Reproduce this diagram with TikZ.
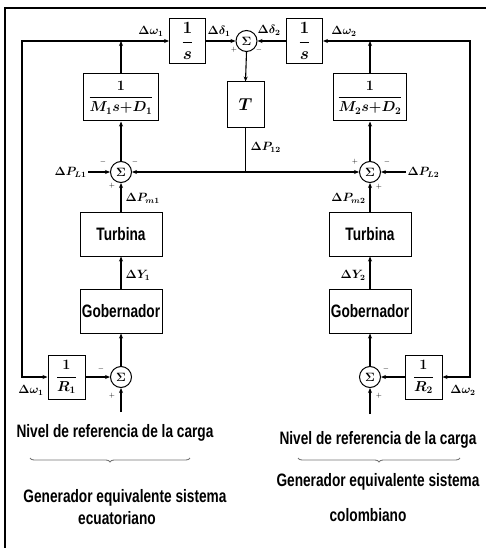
\documentclass[tikz,border=0pt]{standalone}
\usepackage{amsmath}
\usepackage{fontspec}
\newfontfamily\narrowsans[FakeStretch=0.76]{Liberation Sans}
\usepackage{tikz}
\usetikzlibrary{positioning}
\usetikzlibrary{arrows.meta}
\usetikzlibrary{decorations.pathreplacing}

% fraction with a little more air round the bar
\newcommand{\blockfrac}[2]{$\dfrac{#1\rule[-2pt]{0pt}{2pt}}{\rule{0pt}{9pt}#2}$}

\begin{document}
\begin{tikzpicture}[x=1pt, y=-1pt,
    blocknode/.style={draw, line width=1pt, inner sep=0pt, minimum width=82pt, minimum height=44pt, font=\narrowsans\bfseries\fontsize{18}{20}\selectfont},
    fracnode/.style={draw, line width=1pt, inner sep=0pt, minimum width=36pt, minimum height=45pt, font=\boldmath\fontsize{16}{18}\selectfont},
    sumnode/.style={circle, draw, line width=1pt, minimum size=21pt, inner sep=0pt, font=\boldmath\fontsize{13}{13}\selectfont},
    signnode/.style={inner sep=0pt, font=\fontsize{7}{7}\selectfont},
    varlabel/.style={inner sep=1pt, font=\boldmath\fontsize{12}{14}\selectfont},
    captext/.style={inner sep=0pt, font=\narrowsans\bfseries\fontsize{18}{20}\selectfont},
    bracegray/.style={draw=black!55, line width=0.9pt, decorate, decoration={brace, mirror, amplitude=4pt}},
    >={Stealth[length=5pt, width=4pt]}, line width=1.1pt]
        \useasboundingbox (0,0) rectangle (486,548);
        % frame
        \draw[line width=2pt] (5,548) -- (5,8) -- (486,8);

        % top row
        \node[fracnode] (ints1) at (187.5,41) {\blockfrac{1}{s}};
        \node[sumnode] (sumd) at (246.5,41) {$\Sigma$};
        \node[fracnode] (ints2) at (304.5,41) {\blockfrac{1}{s}};
        \node[fracnode, minimum width=37pt, minimum height=46pt, font=\boldmath\fontsize{17}{19}\selectfont] (tie) at (245.5,105) {$T$};

        % area 1
        \node[fracnode, minimum width=75pt, minimum height=47pt, font=\boldmath\fontsize{14}{16}\selectfont] (inert1) at (121,97.5) {$\dfrac{1}{M_1s{+}D_1}$};
        \node[sumnode] (sum1) at (121,172) {$\Sigma$};
        \node[blocknode] (turb1) at (121,234) {Turbina};
        \node[blocknode] (gov1) [below=32pt of turb1] {Gobernador};
        \node[sumnode] (sumr1) at (121,377) {$\Sigma$};
        \node[fracnode, minimum width=37pt, minimum height=44pt, font=\boldmath\fontsize{14}{16}\selectfont] (droop1) at (66.5,377) {\blockfrac{1}{R_1}};

        % area 2
        \node[fracnode, minimum width=73pt, minimum height=47pt, font=\boldmath\fontsize{14}{16}\selectfont] (inert2) at (370,97.5) {$\dfrac{1}{M_2s{+}D_2}$};
        \node[sumnode] (sum2) at (370,172) {$\Sigma$};
        \node[blocknode] (turb2) at (370,234) {Turbina};
        \node[blocknode] (gov2) [below=32pt of turb2] {Gobernador};
        \node[sumnode] (sumr2) at (370,377) {$\Sigma$};
        \node[fracnode, minimum width=37pt, minimum height=44pt, font=\boldmath\fontsize{14}{16}\selectfont] (droop2) at (423.5,377) {\blockfrac{1}{R_2}};

        % loads and references
        \node[varlabel, anchor=east] (pl1) at (88,172) {$\Delta P_{L1}$};
        \node[varlabel, anchor=west] (pl2) at (406,172) {$\Delta P_{L2}$};
        \coordinate (ref1) at (121,412);
        \coordinate (ref2) at (370,414);

        % corners and junctions
        \coordinate (junc1) at (inert1.north |- ints1.west);
        \coordinate (junc2) at (inert2.north |- ints2.east);
        \coordinate (tl) at (22,41);
        \coordinate (bl) at (22,377);
        \coordinate (tr) at (470,41);
        \coordinate (br) at (470,377);
        \coordinate (tjunc) at (tie.south |- sum1.east);

        \draw[->] (junc1) -- (ints1.west);
        \draw[->] (junc1) -- (tl) -- (bl) -- (droop1.west);
        \draw[->] (inert1.north) -- (junc1);
        \draw[->] (junc2) -- (ints2.east);
        \draw[->] (junc2) -- (tr) -- (br) -- (droop2.east);
        \draw[->] (inert2.north) -- (junc2);

        \draw[->] (ints1.east) -- (sumd.west);
        \draw[->] (ints2.west) -- (sumd.east);
        \draw[->] (sumd.south) -- (tie.north);
        \draw (tie.south) -- (tjunc);
        \draw[->] (tjunc) -- (sum1.east);
        \draw[->] (tjunc) -- (sum2.west);

        \draw[->] (pl1.east) -- (sum1.west);
        \draw[->] (pl2.west) -- (sum2.east);
        \draw[->] (sum1.north) -- (inert1.south);
        \draw[->] (sum2.north) -- (inert2.south);
        \draw[->] (turb1.north) -- (sum1.south);
        \draw[->] (turb2.north) -- (sum2.south);
        \draw[->] (gov1.north) -- (turb1.south);
        \draw[->] (gov2.north) -- (turb2.south);
        \draw[->] (sumr1.north) -- (gov1.south);
        \draw[->] (sumr2.north) -- (gov2.south);
        \draw[->] (droop1.east) -- (sumr1.west);
        \draw[->] (droop2.west) -- (sumr2.east);
        \draw[->] (ref1) -- (sumr1.south);
        \draw[->] (ref2) -- (sumr2.south);

        % signal labels
        \node[varlabel] at (151,31) {$\Delta\omega_1$};
        \node[varlabel] at (219,31) {$\Delta\delta_1$};
        \node[varlabel] at (269,30) {$\Delta\delta_2$};
        \node[varlabel] at (344,31) {$\Delta\omega_2$};
        \node[varlabel, anchor=west] at (249,147) {$\Delta P_{12}$};
        \node[varlabel, anchor=west] at (124,198) {$\Delta P_{m1}$};
        \node[varlabel, anchor=east] at (367,198) {$\Delta P_{m2}$};
        \node[varlabel, anchor=west] at (124,275) {$\Delta Y_1$};
        \node[varlabel, anchor=east] at (367,275) {$\Delta Y_2$};
        \node[varlabel] at (31,390) {$\Delta\omega_1$};
        \node[varlabel] at (463,390) {$\Delta\omega_2$};

        % signs
        \node[signnode] at (234,50) {$+$};
        \node[signnode] at (259,50) {$-$};
        \node[signnode] at (103,162) {$-$};
        \node[signnode] at (135,162) {$-$};
        \node[signnode] at (112,186) {$+$};
        \node[signnode] at (355,162) {$+$};
        \node[signnode] at (387,162) {$-$};
        \node[signnode] at (379,187) {$+$};
        \node[signnode] at (101,369) {$-$};
        \node[signnode] at (112,396) {$+$};
        \node[signnode] at (386,369) {$-$};
        \node[signnode] at (379,396) {$+$};

        % captions
        \node[captext] (nivel1) at (115,433) {Nivel de referencia de la carga};
        \draw[bracegray] (30,458) -- (190,458);
        \node[captext] (gen1) at (125,498) {Generador equivalente sistema};
        \node[captext] (pais1) at (117,518) {ecuatoriano};
        \node[captext] (nivel2) at (378,440) {Nivel de referencia de la carga};
        \draw[bracegray] (298,458) -- (460,458);
        \node[captext] (gen2) at (378,482) {Generador equivalente sistema};
        \node[captext] (pais2) at (368,515) {colombiano};
    \end{tikzpicture}
\end{document}
